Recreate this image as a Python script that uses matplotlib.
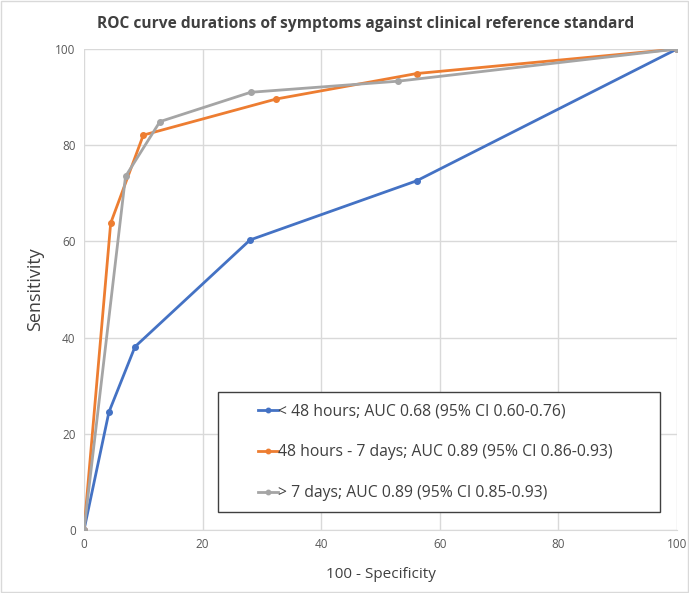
import matplotlib.pyplot as plt
from matplotlib.patches import Rectangle

plt.rcParams['font.family'] = ['Open Sans', 'DejaVu Sans']

# Datos (100 - especificidad, sensibilidad)
x_lt48 = [0, 4.2, 8.6, 28.0, 56.1, 100]
y_lt48 = [0, 24.5, 38.1, 60.3, 72.6, 100]

x_48h7d = [0, 4.5, 10.0, 32.4, 56.1, 100]
y_48h7d = [0, 63.8, 82.1, 89.6, 94.9, 100]

x_gt7 = [0, 7.0, 12.8, 28.1, 52.9, 100]
y_gt7 = [0, 73.5, 84.9, 91.0, 93.3, 100]

labels = ["< 48 hours; AUC 0.68 (95% CI 0.60-0.76)",
          "48 hours - 7 days; AUC 0.89 (95% CI 0.86-0.93)",
          "> 7 days; AUC 0.89 (95% CI 0.85-0.93)"]
ticks = [0, 20, 40, 60, 80, 100]

fig = plt.figure(figsize=(6.89, 5.93), dpi=100)
ax = fig.add_axes([84/689, 63/593, 593/689, 481/593])

ax.plot(x_lt48, y_lt48, color="#4472C4", lw=2, marker="o", ms=4, label=labels[0], zorder=3)
ax.plot(x_48h7d, y_48h7d, color="#ED7D31", lw=2, marker="o", ms=4, label=labels[1], zorder=3)
ax.plot(x_gt7, y_gt7, color="#A5A5A5", lw=2, marker="o", ms=4, label=labels[2], zorder=3)

ax.set_xlim(0, 100)
ax.set_ylim(0, 100)
ax.set_xticks(ticks)
ax.set_yticks(ticks)
ax.grid(True, color="#D9D9D9", lw=1)
ax.set_axisbelow(True)
for s in ["top", "right", "left"]:
    ax.spines[s].set_visible(False)
ax.spines["bottom"].set_color("#D9D9D9")
ax.tick_params(length=0, labelsize=8.5, labelcolor="#595959", pad=6)

ax.set_xlabel("100 - Specificity", fontsize=11, color="#404040", labelpad=11)
ax.set_ylabel("Sensitivity", fontsize=13, color="#404040", labelpad=8)
fig.text(0.531, 0.960, "ROC curve durations of symptoms against clinical reference standard",
         ha="center", va="center", fontsize=11.2, fontweight="bold", color="#404040")

# marco de la leyenda
ax.add_patch(Rectangle((0.226, 0.037), 0.745, 0.2495, transform=ax.transAxes,
                       facecolor="white", edgecolor="#404040", lw=1, zorder=4))
leg = ax.legend(loc="upper left", bbox_to_anchor=(0.293, 0.264), frameon=False,
                fontsize=11.3, handlelength=1.3, handletextpad=0.0, labelspacing=1.6,
                borderpad=0, borderaxespad=0, markerscale=0.8)
leg.set_zorder(5)
for t in leg.get_texts():
    t.set_color("#404040")

fig.patches.append(Rectangle((0.002, 0.002), 0.996, 0.996, transform=fig.transFigure,
                             fill=False, edgecolor="#D9D9D9", lw=1))

fig.savefig("out.png", dpi=100)
